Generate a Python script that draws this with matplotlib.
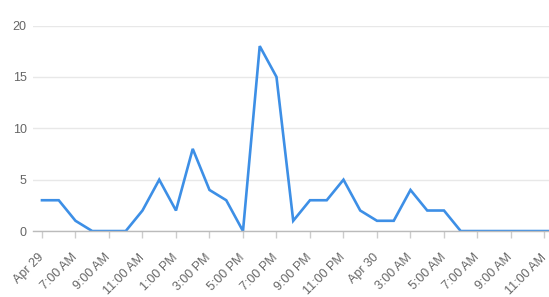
import matplotlib.pyplot as plt
from matplotlib.transforms import offset_copy

# hourly counts, one value per hour
counts = [3, 3, 1, 0, 0, 0, 2, 5, 2, 8, 4, 3, 0, 18, 15, 1,
          3, 3, 5, 2, 1, 1, 4, 2, 2, 0, 0, 0, 0, 0, 0, 0]
tick_labels = ["Apr 29", "7:00 AM", "9:00 AM", "11:00 AM", "1:00 PM", "3:00 PM",
               "5:00 PM", "7:00 PM", "9:00 PM", "11:00 PM", "Apr 30", "3:00 AM",
               "5:00 AM", "7:00 AM", "9:00 AM", "11:00 AM"]
y_ticks = [0, 5, 10, 15, 20]

LINE = "#3d8fe6"
TXT = "#666666"

plt.rcParams['font.family'] = ['Liberation Sans', 'DejaVu Sans']

def main():
    fig = plt.figure(figsize=(5.49, 2.97), dpi=100)
    ax = fig.add_axes([0.060, 0.222, 0.940, 0.692])

    x = list(range(len(counts)))
    ax.plot(x, counts, color=LINE, linewidth=1.9, solid_joinstyle='miter')

    ax.set_xlim(-0.54, 30.27)
    ax.set_ylim(0, 20)

    ax.set_yticks(y_ticks)
    ax.set_yticklabels([str(v) for v in y_ticks])
    ax.tick_params(axis='y', length=0, pad=4.5, labelsize=9, labelcolor=TXT)
    ax.grid(axis='y', color='#e8e8e8', linewidth=1)
    ax.set_axisbelow(True)

    ax.set_xticks(range(0, 2 * len(tick_labels), 2))
    ax.set_xticklabels(tick_labels, rotation=45, ha='right', va='top',
                       rotation_mode='default')
    ax.tick_params(axis='x', length=5, width=1, color='#cccccc', pad=4,
                   labelsize=9, labelcolor=TXT)
    # nudge rotated labels right/down like the original
    for lbl in ax.get_xticklabels():
        lbl.set_transform(offset_copy(lbl.get_transform(), fig=fig,
                                      x=4, y=-8, units='dots'))

    for s in ['top', 'right', 'left']:
        ax.spines[s].set_visible(False)
    ax.spines['bottom'].set_color('#bbbbbb')
    ax.spines['bottom'].set_linewidth(1)

    fig.savefig("out.png", dpi=100)

if __name__ == '__main__':
    main()
